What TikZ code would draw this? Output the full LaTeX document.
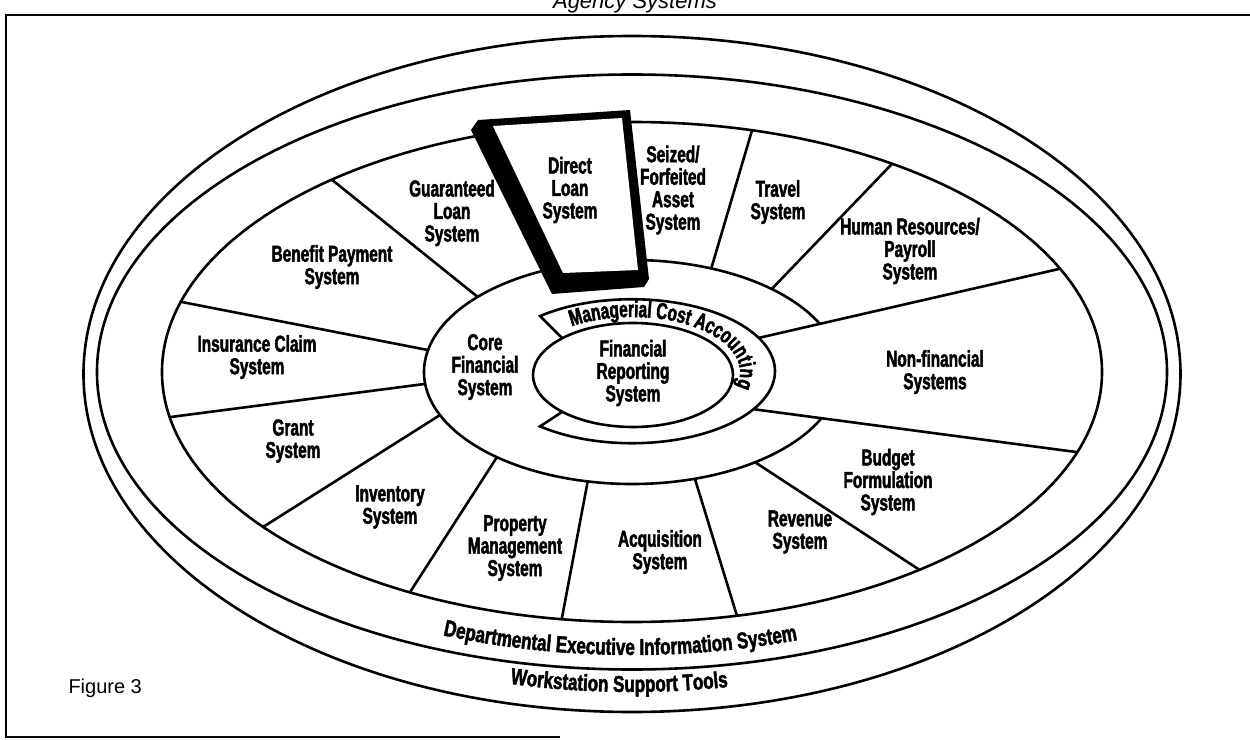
\documentclass[tikz,border=0pt]{standalone}
\usepackage{fontspec}
\setmainfont{Liberation Sans}
\newfontfamily\boxfont[FakeStretch=0.67,FakeBold=2]{Liberation Sans Bold}
\newfontfamily\ringfont[FakeStretch=0.74,FakeBold=2]{Liberation Sans Bold}
\usetikzlibrary{decorations.text}
\newcommand\ringtext{\ringfont\fontsize{23}{23}\selectfont}
\newcommand\hubtext{\boxfont\fontsize{23}{23}\selectfont}
\tikzset{
  ring/.style={draw, line width=2.6pt},
  spoke/.style={line width=2.6pt},
  sys/.style={font=\boxfont\fontsize{23}{22.5}\selectfont, align=center, inner sep=0pt},
  bandtext/.style={decorate, decoration={text along path, text align=center, text={|\ringtext|#1}}}
}

\begin{document}
\begin{tikzpicture}[x=1pt,y=1pt]
\useasboundingbox (-632,-367) rectangle (618,372);

\node[font=\itshape\fontsize{22}{22}\selectfont, anchor=base] (title) at (3,363) {Agency Systems};
\draw[line width=2pt] (618,357) -- (-626,357) -- (-626,-365) -- (-72,-365);

\draw[ring] (0,-2) ellipse (548.5pt and 338pt);
\draw[ring] (0,0) ellipse (535pt and 297.5pt);
\draw[ring] (0,0) ellipse (470pt and 250pt);
\draw[ring] (25.5:208pt and 112pt) arc[start angle=25.5, end angle=335.5, x radius=208pt, y radius=112pt];
\draw[ring] (-69.7,33.8) -- (130:143pt and 73pt) arc[start angle=130, end angle=-130, x radius=143pt, y radius=72pt] -- (-69.7,-39.8);
\draw[ring] (1,-3) ellipse (100pt and 52pt);

\draw[spoke] (137.9:208pt and 112pt) -- (129.7:470pt and 250pt)
  (168.7:208pt and 112pt) -- (163.7:470pt and 250pt)
  (186.1:208pt and 112pt) -- (190.4:470pt and 250pt)
  (202.6:208pt and 112pt) -- (218.3:470pt and 250pt)
  (229.5:208pt and 112pt) -- (241.8:470pt and 250pt)
  (257.7:208pt and 112pt) -- (261.4:470pt and 250pt)
  (287.6:208pt and 112pt) -- (282.9:470pt and 250pt)
  (306.3:208pt and 112pt) -- (307.7:470pt and 250pt)
  (47.8:208pt and 112pt) -- (56.4:470pt and 250pt)
  (67.6:208pt and 112pt) -- (75.2:470pt and 250pt);
\draw[spoke] (27.8:143pt and 73pt) -- (24.4:470pt and 250pt)
  (-30.8:143pt and 73pt) -- (-18.7:470pt and 250pt);

\fill (-161,242) -- (-154,252) -- (-2,262) -- (17,93) -- (12,85) -- (-80,78) -- cycle;
\fill[white] (-139,246) -- (-10,254) -- (6,102) -- (-69,99) -- cycle;

\node[sys] (dl) at (-62,182) {Direct\\Loan\\System};
\node[sys] (guar) at (-180,159) {Guaranteed\\Loan\\System};
\node[sys] (seized) at (41,182) {Seized/\\Forfeited\\Asset\\System};
\node[sys] (travel) at (146,170) {Travel\\System};
\node[sys] (hr) at (278,121) {Human Resources/\\Payroll\\System};
\node[sys] (nonfin) at (303,0) {Non-financial\\Systems};
\node[sys] (budget) at (256,-110) {Budget\\Formulation\\System};
\node[sys] (revenue) at (168,-160) {Revenue\\System};
\node[sys] (acq) at (28,-180) {Acquisition\\System};
\node[sys] (prop) at (-117,-176) {Property\\Management\\System};
\node[sys] (inv) at (-242,-135) {Inventory\\System};
\node[sys] (grant) at (-339,-69) {Grant\\System};
\node[sys] (ins) at (-375,15) {Insurance Claim\\System};
\node[sys] (benefit) at (-300,105) {Benefit Payment\\System};
\node[sys] (core) at (-147,5) {Core\\Financial\\System};
\node[sys] (finrep) at (1,-1) {Financial\\Reporting\\System};

\path[decorate, decoration={text along path, text align=left, text={|\hubtext|Managerial Cost Accounting}}]
  (124:108pt and 55pt) arc[start angle=124, end angle=-45, x radius=108pt, y radius=55pt];
\path[bandtext=Departmental Executive Information System] (228.4:515pt and 283pt) arc[start angle=228.4, end angle=308.4, x radius=515pt, y radius=283pt];
\path[bandtext=Workstation Support Tools] (238.5:542.5pt and 320pt) arc[start angle=238.5, end angle=298.5, x radius=542.5pt, y radius=320pt];

\node[font=\fontsize{20}{20}\selectfont, anchor=base west] (fig) at (-567,-321) {Figure 3};
\end{tikzpicture}
\end{document}
